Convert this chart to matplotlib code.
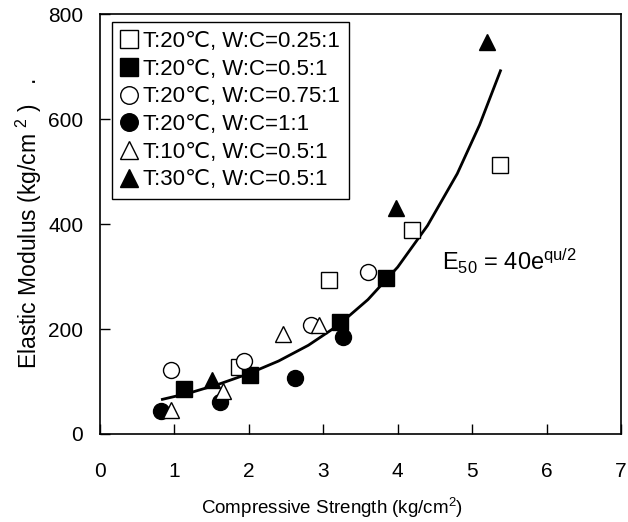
import matplotlib
matplotlib.use("Agg")
import matplotlib.pyplot as plt

plt.rcParams['font.family'] = ['Liberation Sans', 'DejaVu Sans']
plt.rcParams['mathtext.fontset'] = 'custom'
plt.rcParams['mathtext.rm'] = 'Liberation Sans'
plt.rcParams['mathtext.it'] = 'Liberation Sans'

# data
sq_open_x = [1.87, 3.08, 4.19, 5.37]
sq_open_y = [128, 293, 389, 512]
sq_fill_x = [1.13, 2.02, 3.22, 3.84]
sq_fill_y = [86, 112, 213, 297]
ci_open_x = [0.95, 1.94, 2.84, 3.60]
ci_open_y = [122, 139, 208, 308]
ci_fill_x = [0.82, 1.62, 2.62, 3.27]
ci_fill_y = [44, 61, 107, 184]
tr_open_x = [0.95, 1.66, 2.46, 2.94]
tr_open_y = [45, 81, 191, 208]
tr_fill_x = [1.51, 3.98, 5.20]
tr_fill_y = [103, 430, 747]

# fitted curve
curve_x = [0.84, 1.2, 1.6, 2.0, 2.4, 2.8, 3.2, 3.6, 4.0, 4.4, 4.8, 5.1, 5.38]
curve_y = [66, 78, 95, 115, 139, 169, 207, 256, 318, 397, 496, 589, 692]

labels = ['T:20\u2103, W:C=0.25:1', 'T:20\u2103, W:C=0.5:1', 'T:20\u2103, W:C=0.75:1',
          'T:20\u2103, W:C=1:1', 'T:10\u2103, W:C=0.5:1', 'T:30\u2103, W:C=0.5:1']

fig = plt.figure(figsize=(6.28, 5.22), dpi=100)
ax = fig.add_axes([0.159, 0.1686, 0.83, 0.8044])

ax.plot(curve_x, curve_y, color='black', lw=2, zorder=1)

ms = 11.5
kw = dict(linestyle='none', markeredgecolor='black', markeredgewidth=1.0, zorder=2)
ax.plot(sq_open_x, sq_open_y, marker='s', ms=ms, mfc='white', label=labels[0], **kw)
ax.plot(sq_fill_x, sq_fill_y, marker='s', ms=ms, mfc='black', label=labels[1], **kw)
ax.plot(ci_open_x, ci_open_y, marker='o', ms=ms, mfc='white', label=labels[2], **kw)
ax.plot(ci_fill_x, ci_fill_y, marker='o', ms=ms, mfc='black', label=labels[3], **kw)
ax.plot(tr_open_x, tr_open_y, marker='^', ms=ms, mfc='white', label=labels[4], **kw)
ax.plot(tr_fill_x, tr_fill_y, marker='^', ms=ms, mfc='black', label=labels[5], **kw)

ax.text(4.6, 328, 'E$_{50}$ = 40e$^{qu/2}$', fontsize=17, va='center', ha='left')

ax.set_xlim(0, 7)
ax.set_ylim(0, 800)
ax.set_xticks(range(0, 8))
ax.set_yticks([0, 200, 400, 600, 800])
ax.tick_params(direction='in', labelsize=15, length=7, width=1)
ax.tick_params(axis='x', pad=20)
ax.tick_params(axis='y', pad=12)
for s in ax.spines.values():
    s.set_linewidth(1.2)

ax.set_xlabel('Compressive Strength (kg/cm$^2$)', fontsize=13.5)
ax.xaxis.set_label_coords(0.445, -0.148)
ax.set_ylabel('Elastic Modulus (kg/cm $^2$ )   .', fontsize=16.5, labelpad=3)

leg = ax.legend(loc='upper left', bbox_to_anchor=(0.023, 0.981), borderaxespad=0,
                fontsize=16, handlelength=0.7, handletextpad=0.3, labelspacing=0.3,
                borderpad=0.4, fancybox=False, framealpha=1, edgecolor='black',
                markerscale=1.1)
leg.get_frame().set_linewidth(1.0)

fig.savefig('out.png', dpi=100)
